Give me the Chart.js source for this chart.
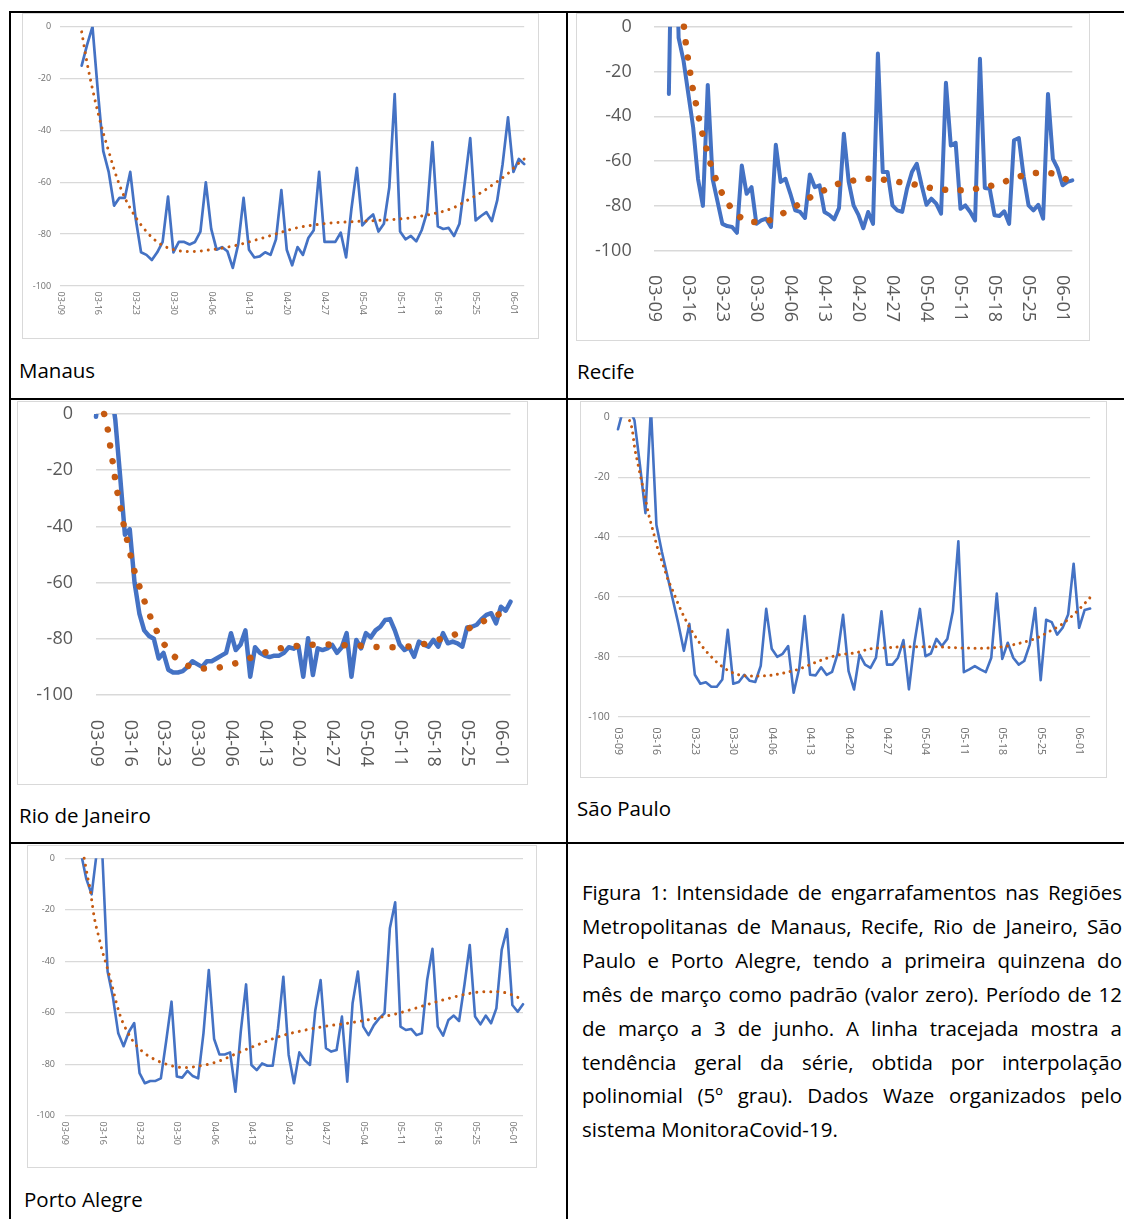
<!DOCTYPE html>
<html lang="pt-BR">
<head>
<meta charset="utf-8">
<title>Intensidade de engarrafamentos</title>
<script src="https://cdn.jsdelivr.net/npm/chart.js@4.4.1/dist/chart.umd.min.js"></script>
<style>
  html, body { margin: 0; padding: 0; background: #fff; }
  body { position: relative; width: 1124px; height: 1219px; overflow: hidden;
         font-family: "Open Sans", "Noto Sans", sans-serif; color: #000; }
  .rule { position: absolute; background: #000; }
  .frame { position: absolute; box-sizing: border-box; border: 1px solid #d9d9d9; background: #fff; }
  .frame canvas { position: absolute; left: 0; top: 0; display: block; }
  .city { position: absolute; font-size: 20.5px; line-height: 28px; white-space: nowrap; }
  .caption { position: absolute; left: 582px; top: 876px; width: 540px; font-size: 20.5px; line-height: 33.9px; }
  .caption .ln { white-space: nowrap; text-align: justify; text-align-last: justify; }
  .caption .ln.last { text-align-last: left; }
</style>
</head>
<body>
<!-- table rules -->
<div class="rule" style="left:9px;top:11px;width:1115px;height:2px"></div>
<div class="rule" style="left:9px;top:11px;width:2px;height:1208px"></div>
<div class="rule" style="left:566px;top:11px;width:2px;height:1208px"></div>
<div class="rule" style="left:9px;top:398px;width:1115px;height:2px"></div>
<div class="rule" style="left:9px;top:842px;width:1115px;height:2px"></div>

<div class="frame" style="left:22px;top:13px;width:517px;height:326px"><canvas id="cManaus" width="515" height="324"></canvas></div>
<div class="frame" style="left:576px;top:13px;width:514px;height:328px"><canvas id="cRecife" width="512" height="326"></canvas></div>
<div class="frame" style="left:17px;top:401px;width:511px;height:384px"><canvas id="cRio" width="509" height="382"></canvas></div>
<div class="frame" style="left:580px;top:401px;width:527px;height:377px"><canvas id="cSaoPaulo" width="525" height="375"></canvas></div>
<div class="frame" style="left:27px;top:845px;width:510px;height:323px"><canvas id="cPortoAlegre" width="508" height="321"></canvas></div>

<div class="city" style="left:19px;top:356px">Manaus</div>
<div class="city" style="left:577px;top:357px">Recife</div>
<div class="city" style="left:19px;top:801px">Rio de Janeiro</div>
<div class="city" style="left:577px;top:794px">São Paulo</div>
<div class="city" style="left:24px;top:1185px">Porto Alegre</div>

<div class="caption">
  <div class="ln">Figura 1: Intensidade de engarrafamentos nas Regiões</div>
  <div class="ln">Metropolitanas de Manaus, Recife, Rio de Janeiro, São</div>
  <div class="ln">Paulo e Porto Alegre, tendo a primeira quinzena do</div>
  <div class="ln">mês de março como padrão (valor zero). Período de 12</div>
  <div class="ln">de março a 3 de junho. A linha tracejada mostra a</div>
  <div class="ln">tendência geral da série, obtida por interpolação</div>
  <div class="ln">polinomial (5º grau). Dados Waze organizados pelo</div>
  <div class="ln last">sistema MonitoraCovid-19.</div>
</div>

<script>
// Time axis: days counted from 9 March; one label per week.
const weekLabels = ['03-09','03-16','03-23','03-30','04-06','04-13','04-20','04-27','05-04','05-11','05-18','05-25','06-01'];
const yTickValues = [0, -20, -40, -60, -80, -100];

// Manaus: daily values from day 4 (13 March)
const manausStart = 4;
const manausValues = [-15,-7,0,-25,-48,-56,-69,-66,-66,-56,-74,-87,-88,-90,-87,-83,-65.5,-87,-83,-83,
  -84,-83,-79,-60,-78,-86,-85,-86.6,-93,-84,-66,-86,-89,-88.6,-87,-88,-82,-63,-86,-92,
  -85,-88,-81.5,-78.5,-56,-83,-83,-83,-79.4,-89,-70,-54.4,-76.6,-74.3,-72.4,-79,-76,-62,-26,-79,
  -82,-80.7,-82.8,-78.5,-71.5,-44.5,-77,-78,-77.6,-80.7,-76,-60,-43,-74.7,-73,-71.5,-75,-67,-53,-35,
  -56,-51,-53];
const manausTrendDays = [4,5,6,7,8,9,10,11,12,13,14,16,18,20,22,24,26,28,30,32,34,36,38,40,42,44,47,50,53,56,59,62,65,68,71,73,76,78,81,83,85,86];
const manausTrendValues = [-2,-14,-24,-33,-41,-48,-55,-61,-66,-70,-73.5,-79,-83,-85.3,-86.4,-86.7,-86.5,-86,-85.4,-84.6,
  -83.6,-82.4,-81.2,-79.9,-78.6,-77.5,-76.5,-75.7,-75.3,-75,-74.7,-74.3,-73.7,-72.6,-71.2,-69.7,-66.3,-64,-59.7,-56.6,-52.6,-51];

// Recife: daily values from day 3 (12 March)
const recifeStart = 3;
const recifeValues = [-30,100,-5,-15,-30,-45,-68,-80,-26,-68,-78,-88,-89,-89.4,-92,-62,-74.6,-71.6,-88,-86.5,
  -85.7,-89.4,-52.7,-69.3,-67.9,-74.6,-82,-82.7,-85.4,-66,-71.6,-70.8,-82.7,-84,-86,-81,-47.8,-69.3,-79.8,-84,
  -90,-82.7,-88,-12,-64.9,-64.9,-79.8,-82,-82.7,-72.3,-64.9,-61.2,-70.8,-79.5,-76.8,-79,-83.5,-25,-53,-51.8,
  -81.3,-79.8,-82.7,-86.5,-14.3,-72,-72.3,-84.2,-84.5,-82.4,-88,-50.7,-49.7,-67,-79.8,-82,-79.5,-85.7,-30,-59,
  -63.4,-70.8,-69.3,-68.6];
const recifeTrendDays = [6.1,6.6,7.1,7.6,8.2,8.9,9.5,10.4,11.2,12.2,13.4,15,17,20,23.4,26.3,29.2,32,35,38,40.4,43.7,46.9,50.2,53.4,56.6,60,63.8,67,70.2,73.4,76.6,79.7,82,84,85];
const recifeTrendValues = [0,-9.4,-16.5,-23.7,-30.7,-37.6,-44.5,-51.5,-58.5,-65.2,-71.9,-78.3,-83.8,-87.2,-86.6,-83.5,-80,-76.3,-73,-70,
  -68.9,-67.9,-68.2,-69.3,-70.4,-71.9,-72.8,-73,-72,-70.5,-68.2,-66,-65.2,-65.5,-67.4,-68.5];

// Rio de Janeiro: daily values from day 0 (9 March)
const rioStart = 0;
const rioValues = [-1,15,20,10,-2,-22,-43,-41,-60,-71,-77,-79,-80,-87,-85,-91,-92,-92,-91.5,-90,
  -88,-89,-90,-88,-88,-87,-86,-85,-78,-84,-82,-77,-93.5,-83,-85,-86,-86.5,-86,-86,-85,
  -83,-83.5,-82.6,-93.5,-79.8,-92.9,-83.4,-84,-83.4,-82.2,-85,-83,-78,-93.5,-80.4,-83.4,-78,-79.5,-77,-75.7,
  -73.3,-73,-77,-82,-84,-83,-86.4,-81,-82,-82.8,-80.4,-82.8,-78,-81.6,-81,-81.6,-82.8,-76,-75.7,-75,
  -73,-71.5,-70.9,-74.5,-68.6,-70,-66.8];
const rioTrendDays = [1.7,2.7,3.1,3.7,4.1,4.8,5.4,6,6.8,7.5,8.4,9.5,10.6,11.8,13.3,15.1,17.6,20.4,23.7,26.9,30.2,33.1,36.3,39.6,44,47.4,50.6,53.9,57.3,60.7,64.3,67.7,70.9,74,77.1,80,81.5,84.7,86];
const rioTrendValues = [0,-8,-13.6,-19.3,-25,-30.6,-36.2,-41.6,-47.2,-52.9,-58.2,-63.8,-69.2,-74.3,-79.5,-84.2,-88.1,-90.3,-90.6,-89.7,
  -88,-86.1,-84.2,-83,-82.2,-82,-82.2,-82.4,-82.8,-83,-82.8,-82,-80.4,-78.8,-76.5,-74.1,-72.8,-70.5,-69.5];

// São Paulo: daily values from day 0 (9 March)
const saoPauloStart = 0;
const saoPauloValues = [-4,3,3,-1,-16,-32,3,-36,-45,-53,-61,-69,-78,-69,-86,-89,-88.5,-90,-90,-87.6,
  -71,-89,-88.4,-86,-88,-88.4,-83,-64,-77.3,-80,-79,-76.4,-92,-84,-66.4,-86,-86.2,-83.5,-86,-85,
  -79,-66,-84.8,-90.9,-79.2,-82.6,-83.7,-80.3,-64.8,-82.6,-82.6,-80.3,-74.4,-90.9,-75.3,-64,-79.8,-78.9,-74,-76.4,
  -74,-64.8,-41.4,-85.1,-84.2,-83.1,-84.2,-85.1,-80.3,-58.9,-80.7,-75.3,-80.3,-82.6,-81.4,-75.9,-63.7,-87.8,-67.6,-68.4,
  -72.6,-70.3,-65.9,-48.9,-70.3,-64.4,-63.9];
const saoPauloTrendDays = [2.1,2.6,3,3.6,4.25,4.9,5.6,6.4,7.2,8.2,9.1,10,11,12,13,14,15,16,17,18,19,20,21,22.5,24.9,27.8,30.4,32.8,35.8,38.3,40.7,43.2,46,48.6,51.4,54.1,56.8,59.6,62.3,65.3,68.1,70.8,73.5,76.3,78.7,80.8,83,85.1,86.1];
const saoPauloTrendValues = [-1.1,-4.2,-9.8,-15.3,-20.9,-26.4,-32.6,-38.1,-43.7,-49.2,-54.2,-58,-62.5,-66.5,-70,-73,-75.7,-78,-80,-81.8,
  -83.3,-84.5,-85.4,-86.2,-86.4,-86.2,-85.3,-84.2,-82,-80.3,-79.2,-78.7,-77.3,-77,-76.7,-76.6,-76.6,-76.8,-77,-77.1,
  -77,-76.4,-75.3,-73.7,-71.4,-69.2,-65.9,-62,-60];

// Porto Alegre: daily values from day 3 (12 March)
const portoAlegreStart = 3;
const portoAlegreValues = [2,-8,-14,3,2,-44,-54,-68,-73,-67.4,-64,-83.5,-87.4,-86.5,-86.5,-85.5,-71,-55.7,-84.8,-85.2,
  -82.6,-84.6,-85.5,-68,-43.4,-70.2,-76.2,-76.2,-75.4,-90.7,-67.4,-49,-80.3,-82.3,-79.7,-80.6,-80.6,-66,-46,-76.4,
  -87.4,-75.4,-78.4,-80.3,-59,-47.3,-73.8,-75.1,-74.5,-61.5,-86.8,-56.3,-44,-65.4,-68.7,-64.8,-62.2,-60.2,-27.2,-17.1,
  -65.4,-66.7,-66.3,-68.7,-68,-47.3,-35.2,-65.4,-68.9,-62.8,-61.1,-63.2,-49.2,-33.7,-61.5,-64.5,-61.1,-64.1,-58.3,-35.6,
  -27.5,-57,-59.6,-56.7];
const portoAlegreTrendDays = [3.6,4.3,4.7,5.1,5.5,6.4,7,8,8.9,9.5,10.1,10.8,11.6,12.5,13.5,15.1,16.1,17.2,18.1,19.5,20.8,22.2,23.6,25,26.3,27.5,28.9,30.2,31.6,32.9,35,36.5,37.7,38.9,41.6,44.1,46.6,49.4,51.9,54.8,57.3,59.8,62.6,65.4,67.9,70.7,73.2,75.7,78.2,81,83.2,85.1,86];
const portoAlegreTrendValues = [0,-7.8,-11.7,-17.5,-23,-31,-36,-43,-50,-55,-59.5,-63.5,-67,-70.2,-73,-76,-77.3,-78.5,-79.3,-80.3,
  -81,-81.3,-81.2,-80.7,-80.3,-79.7,-78.8,-77.7,-76.4,-75.2,-73.4,-72.2,-71.2,-70.2,-68.4,-67.2,-66.1,-65.1,-64.4,-63.5,
  -62.6,-61.5,-60.2,-58.5,-56.9,-55.2,-53.8,-52.6,-51.9,-51.8,-52.5,-54.1,-55];

const SERIES_BLUE = '#4472C4';
const TREND_ORANGE = '#C55A11';

function drawPanel(canvasId, start, values, trendDays, trendValues, look) {
  const points = values.map((v, i) => ({ x: start + i, y: v }));
  const trend = trendDays.map((d, i) => ({ x: d, y: trendValues[i] }));
  const tickFont = { family: look.family, size: look.fontSize };
  return new Chart(document.getElementById(canvasId), {
    type: 'line',
    data: {
      datasets: [
        { // polynomial trend, drawn as round dots on top
          data: trend, borderColor: TREND_ORANGE, borderWidth: look.dotSize,
          borderDash: [0.001, look.dotGap], borderCapStyle: 'round',
          pointRadius: 0, tension: 0.4, cubicInterpolationMode: 'monotone', fill: false,
          clip: { left: 4, top: 4, right: 4, bottom: 4 }
        },
        { // daily congestion index
          data: points, borderColor: SERIES_BLUE, borderWidth: look.lineWidth,
          borderJoinStyle: 'round', borderCapStyle: 'round',
          pointRadius: 0, tension: 0, fill: false,
          clip: { left: 4, top: 0, right: 4, bottom: 4 }
        }
      ]
    },
    options: {
      responsive: false, animation: false, devicePixelRatio: 1, events: [],
      layout: { padding: { left: 0, top: look.top, right: look.rightPad, bottom: 0 } },
      plugins: { legend: { display: false }, tooltip: { enabled: false } },
      scales: {
        x: {
          type: 'linear', min: 0, max: 86,
          afterBuildTicks: s => { s.ticks = weekLabels.map((_, i) => ({ value: i * 7 })); },
          afterFit: s => { s.height = look.axisHeight; s.paddingLeft = 0; s.paddingRight = 0; },
          grid: { display: false, drawTicks: false },
          border: { display: false },
          ticks: {
            autoSkip: false, minRotation: -90, maxRotation: -90, padding: look.xPad,
            color: look.tickColor, font: tickFont,
            callback: (v, i) => weekLabels[i]
          }
        },
        y: {
          min: -100, max: 0,
          afterBuildTicks: s => { s.ticks = yTickValues.map(v => ({ value: v })); },
          afterFit: s => { s.width = look.left; s.paddingTop = 0; s.paddingBottom = 0; },
          grid: { color: '#d9d9d9', lineWidth: look.gridWidth, drawTicks: false },
          border: { display: false },
          ticks: { padding: look.yPad, color: look.tickColor, font: tickFont, callback: v => String(v) }
        }
      }
    }
  });
}

drawPanel('cManaus', manausStart, manausValues, manausTrendDays, manausTrendValues, {
  left: 37.1, rightPad: 13.8, top: 12.7, axisHeight: 52, xPad: 29, yPad: 9,
  family: 'Open Sans', fontSize: 9, tickColor: '#6f6f6f',
  lineWidth: 2.7, dotSize: 3, dotGap: 7, gridWidth: 1.3
});
drawPanel('cRecife', recifeStart, recifeValues, recifeTrendDays, recifeTrendValues, {
  left: 77.3, rightPad: 16.7, top: 12.7, axisHeight: 89.3, xPad: 71.3, yPad: 22.6,
  family: 'Open Sans', fontSize: 18, tickColor: '#595959',
  lineWidth: 4, dotSize: 6.5, dotGap: 15.5, gridWidth: 1.5
});
drawPanel('cRio', rioStart, rioValues, rioTrendDays, rioTrendValues, {
  left: 78, rightPad: 16.5, top: 12, axisHeight: 89, xPad: 71.7, yPad: 23,
  family: 'Open Sans', fontSize: 18, tickColor: '#595959',
  lineWidth: 4.5, dotSize: 6.5, dotGap: 16, gridWidth: 1.6
});
drawPanel('cSaoPaulo', saoPauloStart, saoPauloValues, saoPauloTrendDays, saoPauloTrendValues, {
  left: 37, rightPad: 15.9, top: 15.3, axisHeight: 60.3, xPad: 38.3, yPad: 8.3,
  family: 'Open Sans', fontSize: 10.5, tickColor: '#6f6f6f',
  lineWidth: 2.6, dotSize: 3, dotGap: 6.5, gridWidth: 1.2
});
drawPanel('cPortoAlegre', portoAlegreStart, portoAlegreValues, portoAlegreTrendDays, portoAlegreTrendValues, {
  left: 37, rightPad: 13, top: 12.3, axisHeight: 51.3, xPad: 29.3, yPad: 10,
  family: 'Open Sans', fontSize: 9, tickColor: '#6f6f6f',
  lineWidth: 2.6, dotSize: 3, dotGap: 7, gridWidth: 1.2
});
</script>
</body>
</html>
